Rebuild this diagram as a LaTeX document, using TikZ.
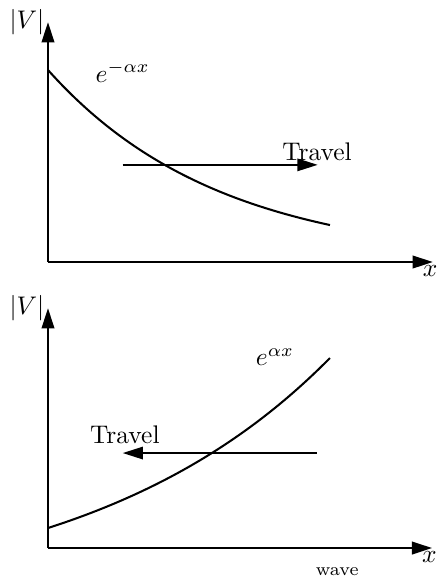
\documentclass[tikz,border=0pt]{standalone}
\usepackage{amsmath}
\usetikzlibrary{arrows.meta,positioning}

\begin{document}
\begin{tikzpicture}[>={Triangle[length=2.8mm,width=1.7mm]},
    axis/.style={line width=1.1pt,->},
    curve/.style={thick},
    travel/.style={thick,->}]
  \useasboundingbox (-0.662,-0.441) rectangle (5.352,7.559);

  % ---------------- Upper plot: decaying amplitude ----------------
  \begin{scope}[shift={(0,3.945)}]
    \coordinate (uO) at (0,0);
    \coordinate (uX) at (5.31,0);
    \coordinate (uY) at (0,3.31);
    \draw[axis] (uO) -- (uX);
    \draw[axis] (uO) -- (uY);
    \node (uV) at (-0.29,3.31) {$|V|$};
    \node (ux) at (5.27,-0.13) {$x$};
    \draw[curve,domain=0:3.89,samples=60] plot (\x,{2.648*exp(-0.4235*\x)});
    \node (uexp) at (1.03,2.62) {$e^{-\alpha x}$};
    % travel direction: to the right
    \coordinate (ua) at (1.03,1.34);
    \coordinate (ub) at (3.72,1.34);
    \draw[travel] (ua) -- (ub);
    \node (utravel) at (3.71,1.52) {Travel};
  \end{scope}

  % ---------------- Lower plot: growing amplitude ----------------
  \begin{scope}
    \coordinate (lO) at (0,0);
    \coordinate (lX) at (5.30,0);
    \coordinate (lY) at (0,3.31);
    \draw[axis] (lO) -- (lX);
    \draw[axis] (lO) -- (lY);
    \node (lV) at (-0.29,3.31) {$|V|$};
    \node (lx) at (5.26,-0.13) {$x$};
    \draw[curve,domain=0:3.89,samples=60] plot (\x,{-0.815+1.091*exp(0.295*\x)});
    \node (lexp) at (3.13,2.63) {$e^{\alpha x}$};
    % travel direction: to the left
    \coordinate (la) at (3.71,1.31);
    \coordinate (lb) at (1.03,1.31);
    \draw[travel] (la) -- (lb);
    \node (ltravel) at (1.06,1.56) {Travel};
    \node[font=\scriptsize] (lwave) at (3.99,-0.33) {wave};
  \end{scope}
\end{tikzpicture}
\end{document}
